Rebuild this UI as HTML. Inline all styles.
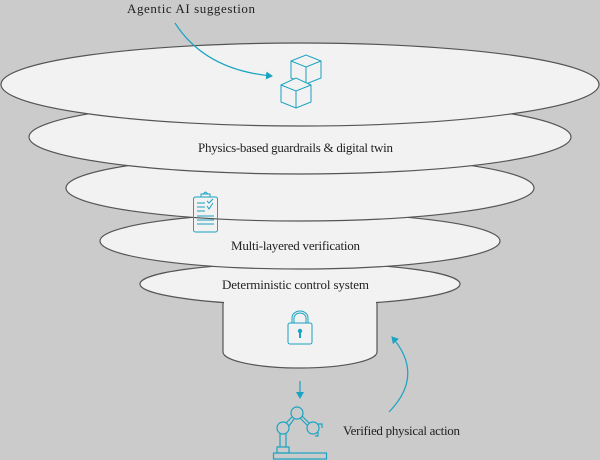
<!DOCTYPE html>
<html><head><meta charset="utf-8"><style>
html,body{margin:0;padding:0;background:#cbcbcb;}
svg{display:block;}
text{font-family:"Liberation Serif",serif;font-size:13px;fill:#222;}
</style></head><body>
<svg width="600" height="460" viewBox="0 0 600 460" xmlns="http://www.w3.org/2000/svg">
<defs>
<marker id="ah" markerWidth="8" markerHeight="8" refX="6" refY="4" orient="auto" markerUnits="userSpaceOnUse">
<path d="M0,0 L7,4 L0,8 Z" fill="#1aa3c2"/></marker>
</defs>
<rect width="600" height="460" fill="#cbcbcb"/>
<g stroke="#555" stroke-width="1.2" fill="#f2f2f2">
<!-- cylinder -->
<path d="M223,290 L223,352 A77,16 0 0 0 377,352 L377,290 Z" stroke="none"/>
<path d="M223,300 L223,352 A77,16 0 0 0 377,352 L377,300" fill="none"/>
<ellipse cx="300" cy="284" rx="160" ry="21"/>
<path d="M224,296 L224,352 L376,352 L376,296 Z" stroke="none"/>
<ellipse cx="300" cy="241" rx="200" ry="28"/>
<ellipse cx="300" cy="188" rx="234" ry="33"/>
<ellipse cx="300" cy="137" rx="271" ry="37"/>
<ellipse cx="300" cy="84.5" rx="299" ry="41.5"/>
</g>
<text x="127" y="13" textLength="128">Agentic AI suggestion</text>
<text x="198" y="152" textLength="195">Physics-based guardrails &amp; digital twin</text>
<text x="231" y="250" textLength="129">Multi-layered verification</text>
<text x="222" y="289" textLength="147">Deterministic control system</text>
<text x="343" y="435" textLength="117">Verified physical action</text>
<g fill="none" stroke="#1aa3c2" stroke-width="1.2">
<path d="M175,23 Q205,70 272,76" marker-end="url(#ah)"/>
<!-- cubes -->
<g stroke-width="1">
<path d="M291,61 L306,55 L321,61 L321,78 L306,84 L291,78 Z M291,61 L306,67 L321,61 M306,67 L306,84"/>
<path d="M281,85 L296,78 L311,85 L311,102 L296,108 L281,102 Z" fill="#f2f2f2"/>
<path d="M281,85 L296,91 L311,85 M296,91 L296,108"/>
<!-- clipboard -->
<rect x="193.5" y="197" width="24" height="35" rx="2"/>
<path d="M201,197 L201,194 L210,194 L210,197 M203,194 L205.5,192 L208,194"/>
<path d="M197,203 H205 M197,207 H205 M197,211 H205 M197,216 H214 M197,220 H214 M197,224 H214 M207,206 L209,209 L213,203 M207,201 L209,203 L213,199"/>
<!-- lock -->
<rect x="288" y="323" width="24" height="21" rx="2"/>
<path d="M292,323 V318 A8,7 0 0 1 308,318 V323 M294,323 V318 A6,5 0 0 1 306,318 V323"/>
</g>
<circle cx="300" cy="331" r="2.2" fill="#1aa3c2" stroke="none"/>
<rect x="299" y="331" width="2" height="7" fill="#1aa3c2" stroke="none"/>
<!-- down arrow -->
<path d="M300,381 L300,398" marker-end="url(#ah)"/>
<!-- robot -->
<rect x="273.5" y="453" width="53" height="6"/>
<rect x="277" y="447" width="12" height="6"/>
<path d="M280,447 V433 M286,447 V433"/>
<circle cx="283" cy="428" r="6"/>
<circle cx="297" cy="413" r="6"/>
<circle cx="313" cy="428" r="6"/>
<path d="M286,423 L292,417 M289,426 L294,419 M302,416 L309,423 M300,418 L307,425"/>
<path d="M318,424 H322 V428 M318,432 V436 H315"/>
<!-- up curved arrow -->
<path d="M389,412 Q425,375 392,337" marker-end="url(#ah)"/>
</g>
</svg>
</body></html>
